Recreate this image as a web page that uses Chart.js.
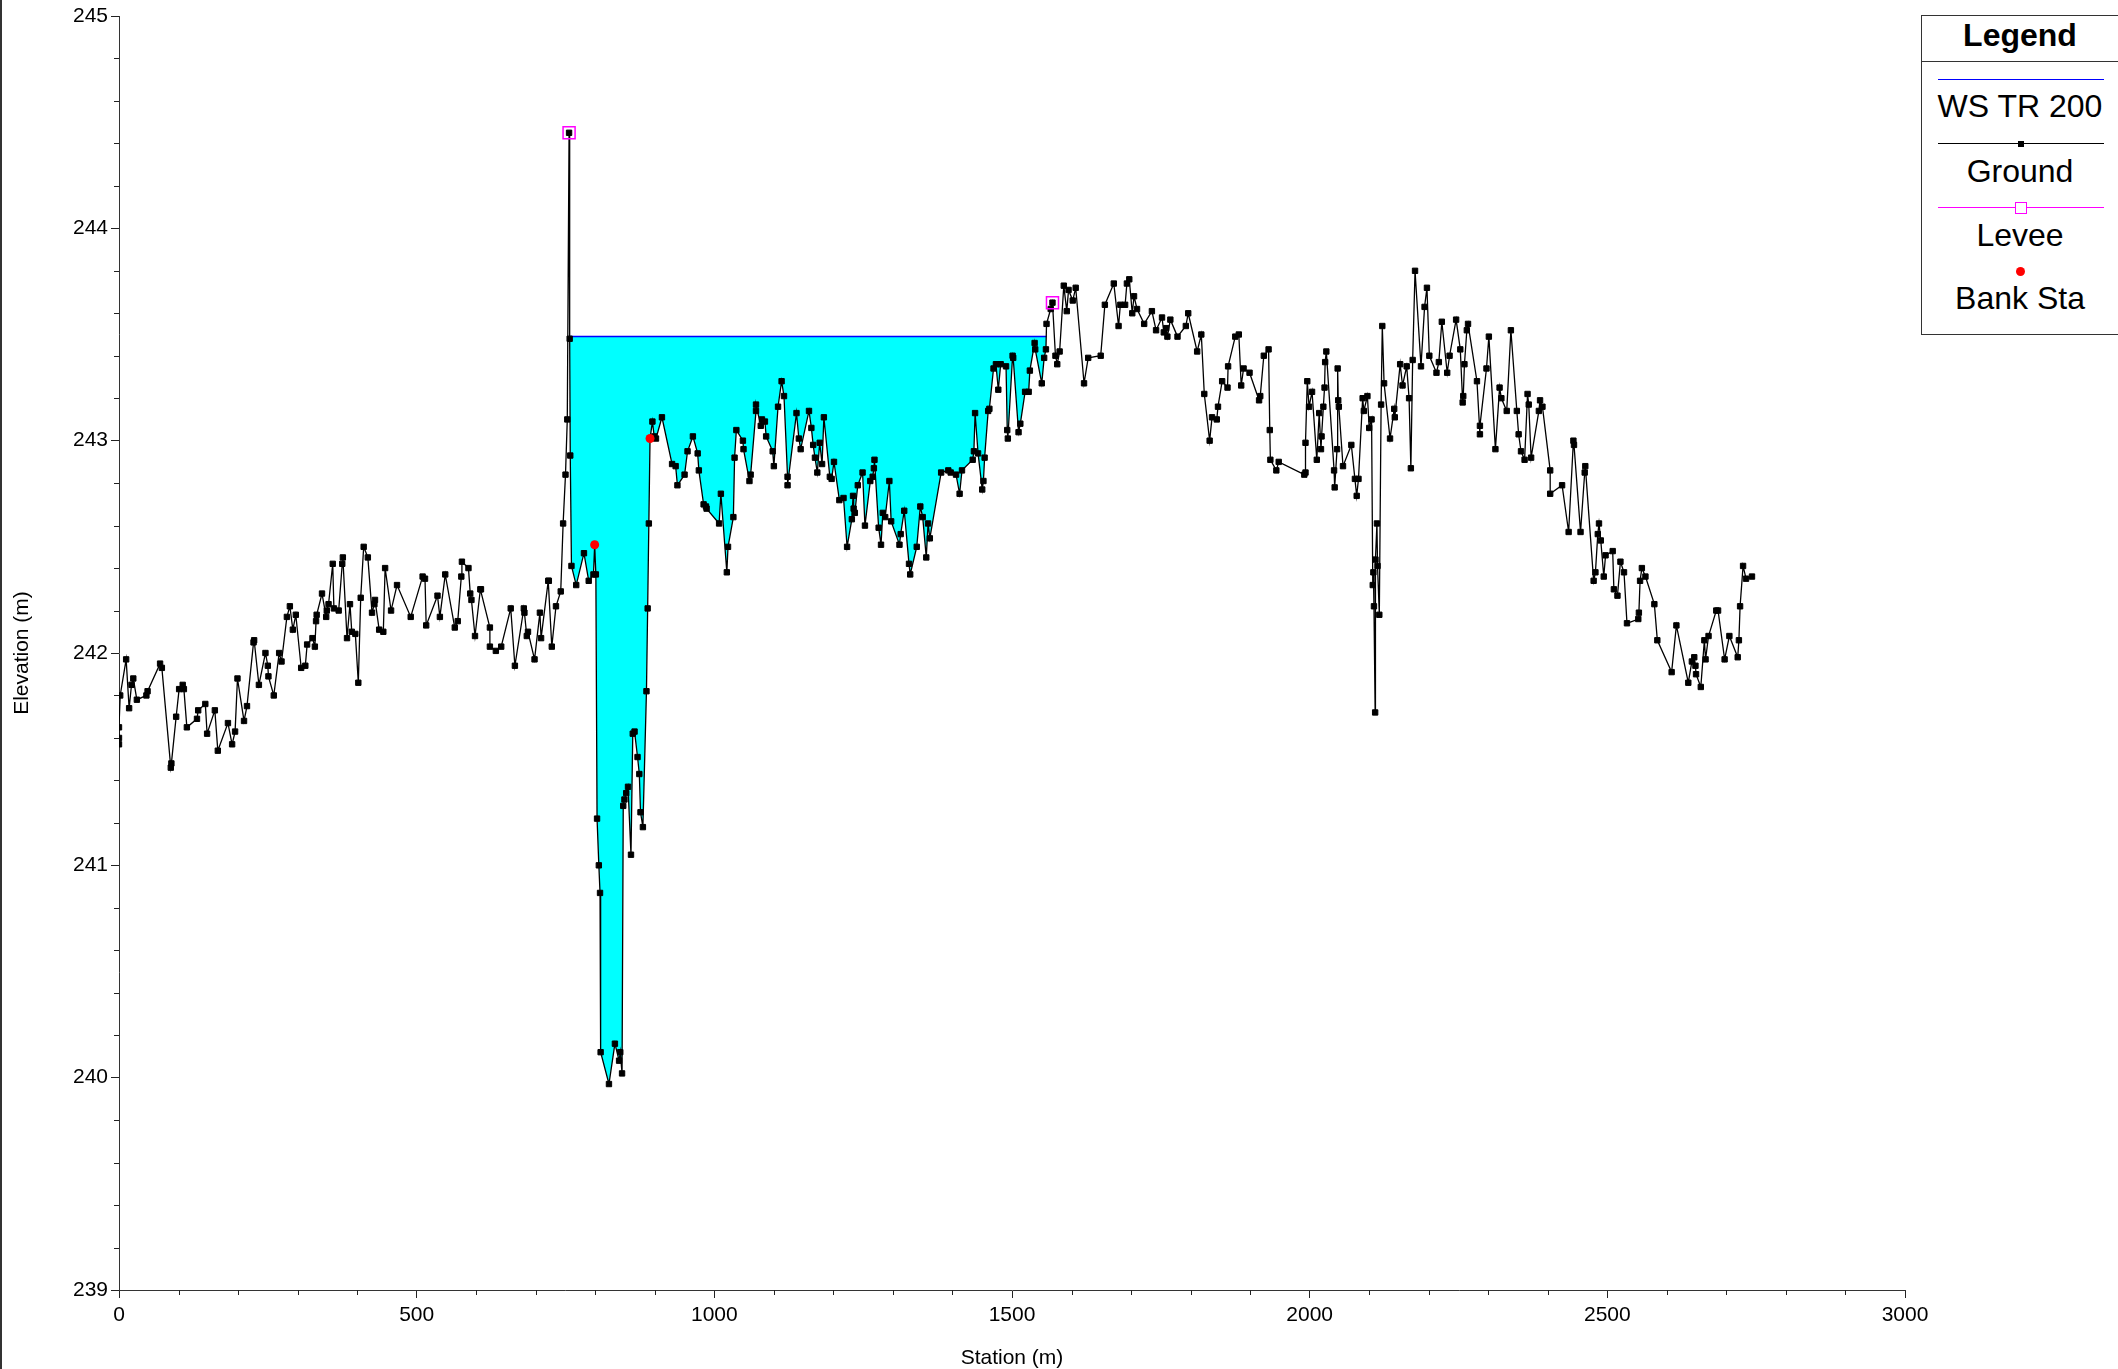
<!DOCTYPE html>
<html>
<head>
<meta charset="utf-8">
<script src="https://cdn.jsdelivr.net/npm/chart.js@4.4.1/dist/chart.umd.min.js"></script>
<style>
  html, body { margin: 0; padding: 0; background: #fff; }
  #wrap { position: relative; width: 2118px; height: 1369px; overflow: hidden; }
  #edge { position: absolute; left: 0; top: 0; width: 2px; height: 1369px; background: #333; }
  #legend {
    position: absolute; left: 1921px; top: 15px; width: 196px; height: 318px;
    border: 1px solid #333; background: #fff;
    font-family: "Liberation Sans", Arial, sans-serif; color: #000;
  }
  #legend .head { position: absolute; left: 0; top: 0; width: 100%; height: 45px; border-bottom: 1px solid #333;
    font-weight: bold; font-size: 32px; line-height: 38px; text-align: center; }
  #legend .txt { position: absolute; left: 0; width: 100%; text-align: center; font-size: 32px; line-height: 34px; }
  #legend .ln { position: absolute; left: 16px; width: 166px; height: 0; }
  #legend .mk { position: absolute; }
</style>
</head>
<body>
<div id="wrap">
  <canvas id="chart" width="2118" height="1369"></canvas>
  <div id="edge"></div>
  <div id="legend">
    <div class="head">Legend</div>
    <div class="ln" style="top:63px; border-top:1.5px solid #0000ff;"></div>
    <div class="txt" style="top:73px;">WS TR 200</div>
    <div class="ln" style="top:127px; border-top:1.5px solid #000;"></div>
    <div class="mk" style="left:96px; top:125px; width:6px; height:6px; background:#000;"></div>
    <div class="txt" style="top:138px;">Ground</div>
    <div class="ln" style="top:191px; border-top:1.5px solid #ff00ff;"></div>
    <div class="mk" style="left:93px; top:186px; width:10px; height:10px; border:1.5px solid #ff00ff; background:#fff;"></div>
    <div class="txt" style="top:202px;">Levee</div>
    <div class="mk" style="left:94px; top:251px; width:9px; height:9px; border-radius:50%; background:#ff0000;"></div>
    <div class="txt" style="top:265px;">Bank Sta</div>
  </div>
</div>
<script>
// profil en travers : station (m) et cote du terrain (m)
const groundStation = [
  0, 0, 0, 2, 12, 17, 21, 24, 30, 46,
  48, 69, 72, 87, 88, 96, 101, 107, 109, 114,
  131, 133, 145, 148, 161, 166, 183, 190, 195, 199,
  210, 215, 226, 227, 235, 246, 250, 251, 260, 269,
  273, 282, 287, 292, 297, 306, 313, 316, 325, 329,
  331, 332, 341, 348, 349, 352, 359, 361, 369, 375,
  376, 383, 388, 391, 397, 402, 406, 411, 418, 425,
  429, 430, 437, 444, 447, 457, 467, 490, 510, 514,
  516, 535, 539, 548, 564, 569, 575, 576, 587, 590,
  592, 598, 607, 608, 623, 623, 633, 642, 658, 665,
  680, 681, 685, 687, 698, 707, 709, 721, 722, 727,
  734, 742, 746, 750, 753, 756, 757, 758, 760, 768,
  781, 789, 797, 799, 801, 803, 806, 808, 809, 823,
  833, 840, 842, 845, 847, 849, 852, 855, 860, 863,
  866, 871, 874, 876, 880, 886, 888, 890, 892, 896,
  899, 902, 912, 929, 935, 938, 950, 955, 964, 972,
  974, 982, 986, 987, 1008, 1011, 1021, 1023, 1032, 1034,
  1037, 1048, 1049, 1059, 1061, 1070, 1070, 1078, 1080, 1085,
  1087, 1098, 1100, 1107, 1113, 1117, 1123, 1123, 1138, 1142,
  1145, 1159, 1163, 1166, 1169, 1173, 1177, 1181, 1184, 1194,
  1197, 1201, 1210, 1217, 1223, 1231, 1233, 1234, 1236, 1241,
  1249, 1253, 1262, 1266, 1268, 1269, 1276, 1280, 1283, 1287,
  1294, 1297, 1311, 1313, 1319, 1327, 1329, 1340, 1346, 1350,
  1356, 1359, 1362, 1381, 1393, 1397, 1406, 1412, 1416, 1434,
  1436, 1438, 1443, 1450, 1452, 1454, 1460, 1462, 1469, 1473,
  1477, 1481, 1490, 1492, 1493, 1501, 1502, 1511, 1514, 1522,
  1528, 1530, 1538, 1539, 1550, 1554, 1557, 1558, 1565, 1568,
  1573, 1576, 1580, 1587, 1592, 1595, 1602, 1607, 1621, 1628,
  1649, 1656, 1671, 1679, 1682, 1690, 1693, 1697, 1702, 1705,
  1710, 1722, 1735, 1742, 1752, 1755, 1759, 1761, 1766, 1778,
  1792, 1796, 1811, 1818, 1823, 1832, 1836, 1844, 1846, 1853,
  1862, 1863, 1875, 1881, 1885, 1889, 1899, 1915, 1917, 1923,
  1931, 1933, 1934, 1944, 1948, 1991, 1993, 1993, 1996, 1999,
  2004, 2012, 2016, 2019, 2020, 2023, 2025, 2026, 2028, 2041,
  2042, 2046, 2047, 2048, 2049, 2056, 2070, 2076, 2079, 2082,
  2089, 2091, 2097, 2100, 2104, 2106, 2107, 2108, 2110, 2110.5,
  2113, 2114, 2117, 2120, 2122, 2125, 2135, 2142, 2143, 2152,
  2156, 2163, 2167, 2170, 2173, 2177, 2187, 2193, 2197, 2201,
  2213, 2217, 2222, 2231, 2235, 2246, 2253, 2257, 2258, 2260,
  2264, 2266, 2281, 2286, 2286, 2297, 2301, 2312, 2319, 2322,
  2331, 2338, 2348, 2351, 2355, 2361, 2366, 2368, 2372, 2385,
  2387, 2391, 2404, 2404, 2424, 2435, 2443, 2444, 2455, 2462,
  2463, 2477, 2480, 2484, 2486, 2489, 2494, 2497, 2509, 2511,
  2517, 2522, 2528, 2533, 2552, 2553, 2555, 2558, 2564, 2579,
  2584, 2608, 2616, 2636, 2642, 2646, 2648, 2649, 2657, 2663,
  2665, 2670, 2683, 2686, 2697, 2705, 2719, 2721, 2723, 2728,
  2733, 2743
];
const groundElevation = [
  241.57, 241.60, 241.65, 241.80, 241.97, 241.74, 241.85, 241.88, 241.78, 241.80,
  241.82, 241.95, 241.93, 241.46, 241.48, 241.70, 241.83, 241.85, 241.83, 241.65,
  241.69, 241.73, 241.76, 241.62, 241.73, 241.54, 241.67, 241.57, 241.63, 241.88,
  241.68, 241.75, 242.05, 242.06, 241.85, 242.00, 241.94, 241.89, 241.80, 242.00,
  241.96, 242.17, 242.22, 242.11, 242.18, 241.93, 241.94, 242.04, 242.07, 242.03,
  242.15, 242.18, 242.28, 242.17, 242.20, 242.23, 242.42, 242.21, 242.20, 242.42,
  242.45, 242.07, 242.23, 242.10, 242.09, 241.86, 242.26, 242.50, 242.45, 242.19,
  242.23, 242.25, 242.11, 242.10, 242.40, 242.20, 242.32, 242.17, 242.36, 242.35,
  242.13, 242.27, 242.17, 242.37, 242.12, 242.15, 242.36, 242.43, 242.40, 242.28,
  242.25, 242.08, 242.30, 242.30, 242.12, 242.03, 242.01, 242.03, 242.21, 241.94,
  242.21, 242.19, 242.08, 242.10, 241.97, 242.19, 242.07, 242.34, 242.34, 242.03,
  242.22, 242.29, 242.61, 242.84, 243.10, 244.45, 243.48, 242.93, 242.41, 242.32,
  242.47, 242.34, 242.37, 242.51, 242.37, 241.22, 241.00, 240.87, 240.12, 239.97,
  240.16, 240.08, 240.12, 240.02, 241.28, 241.31, 241.34, 241.37, 241.05, 241.62,
  241.63, 241.51, 241.43, 241.25, 241.18, 241.82, 242.21, 242.61, 243.01, 243.09,
  243.02, 243.01, 243.11, 242.89, 242.88, 242.79, 242.84, 242.95, 243.02, 242.94,
  242.86, 242.70, 242.69, 242.68, 242.61, 242.75, 242.38, 242.50, 242.64, 242.92,
  243.05, 243.00, 242.96, 242.81, 242.84, 243.14, 243.17, 243.07, 243.10, 243.09,
  243.02, 242.95, 242.88, 243.16, 243.28, 243.21, 242.83, 242.79, 243.13, 243.01,
  242.96, 243.14, 243.06, 242.98, 242.92, 242.85, 242.99, 242.89, 243.11, 242.83,
  242.82, 242.90, 242.72, 242.73, 242.50, 242.63, 242.74, 242.68, 242.66, 242.79,
  242.85, 242.60, 242.81, 242.83, 242.87, 242.91, 242.59, 242.51, 242.66, 242.64,
  242.81, 242.62, 242.51, 242.56, 242.67, 242.42, 242.37, 242.50, 242.69, 242.64,
  242.45, 242.61, 242.54, 242.85, 242.86, 242.85, 242.84, 242.75, 242.86, 242.91,
  242.95, 243.13, 242.94, 242.77, 242.81, 242.92, 243.14, 243.15, 243.34, 243.36,
  243.24, 243.36, 243.35, 243.05, 243.01, 243.40, 243.39, 243.04, 243.08, 243.23,
  243.23, 243.33, 243.46, 243.43, 243.27, 243.39, 243.43, 243.55, 243.62, 243.65,
  243.40, 243.36, 243.42, 243.73, 243.61, 243.71, 243.66, 243.72, 243.27, 243.39,
  243.40, 243.64, 243.74, 243.54, 243.64, 243.64, 243.74, 243.76, 243.60, 243.68,
  243.62, 243.55, 243.61, 243.52, 243.58, 243.51, 243.53, 243.49, 243.57, 243.49,
  243.54, 243.60, 243.42, 243.50, 243.22, 243.00, 243.11, 243.10, 243.16, 243.28,
  243.25, 243.35, 243.49, 243.50, 243.26, 243.34, 243.32, 243.19, 243.21, 243.40,
  243.43, 243.05, 242.91, 242.86, 242.90, 242.84, 242.85, 242.99, 243.28, 243.16,
  243.23, 242.91, 243.13, 242.96, 243.02, 243.16, 243.25, 243.37, 243.42, 242.86,
  242.78, 242.96, 243.34, 243.19, 243.16, 242.88, 242.98, 242.82, 242.74, 242.82,
  243.20, 243.14, 243.21, 243.06, 243.10, 242.32, 242.38, 242.22, 241.72, 242.44,
  242.61, 242.41, 242.18, 243.17, 243.54, 243.27, 243.01, 243.15, 243.11, 243.36,
  243.26, 243.35, 243.20, 242.87, 243.38, 243.80, 243.35, 243.63, 243.72, 243.40,
  243.32, 243.37, 243.56, 243.32, 243.40, 243.57, 243.43, 243.18, 243.21, 243.36,
  243.52, 243.55, 243.28, 243.03, 243.07, 243.34, 243.49, 242.96, 243.25, 243.20,
  243.14, 243.52, 243.14, 243.03, 242.95, 242.91, 243.22, 243.17, 242.92, 243.14,
  243.19, 243.16, 242.86, 242.75, 242.79, 242.57, 243.00, 242.98, 242.57, 242.85,
  242.88, 242.34, 242.38, 242.56, 242.61, 242.53, 242.36, 242.46, 242.48, 242.30,
  242.27, 242.43, 242.38, 242.14, 242.16, 242.19, 242.34, 242.40, 242.36, 242.23,
  242.06, 241.91, 242.13, 241.86, 241.96, 241.98, 241.94, 241.90, 241.84, 242.06,
  241.97, 242.08, 242.20, 242.20, 241.97, 242.08, 241.98, 242.06, 242.22, 242.41,
  242.35, 242.36
];

// ligne d'eau WS TR 200
const wsStation = [757, 1558];
const wsElevation = [243.49, 243.49];

// digues et berges
const leveeStation = [756, 1568];
const leveeElevation = [244.45, 243.65];
const bankStation = [799, 892];
const bankElevation = [242.51, 243.01];

// axes
const xMin = 0, xMax = 3000, xStep = 500, xMinor = 100;
const yMin = 239, yMax = 245, yStep = 1, yMinor = 0.2;

const toPoints = (xs, ys) => xs.map((x, i) => ({ x: x, y: ys[i] }));
const fontFamily = '"Liberation Sans", Arial, sans-serif';

// petites graduations (Chart.js n'a pas de minor ticks)
const minorTicks = {
  id: 'minorTicks',
  afterDraw(chart) {
    const { ctx, scales: { x, y } } = chart;
    ctx.save();
    ctx.strokeStyle = '#222';
    ctx.lineWidth = 1;
    ctx.beginPath();
    for (let v = xMin; v <= xMax; v += xMinor) {
      if (v % xStep === 0) continue;
      const px = Math.round(x.getPixelForValue(v)) + 0.5;
      ctx.moveTo(px, x.top);
      ctx.lineTo(px, x.top + 5);
    }
    const n = Math.round((yMax - yMin) / yMinor);
    for (let i = 0; i <= n; i++) {
      if (i % 5 === 0) continue;
      const py = Math.round(y.getPixelForValue(yMin + i * yMinor)) + 0.5;
      ctx.moveTo(y.right - 5, py);
      ctx.lineTo(y.right, py);
    }
    ctx.stroke();
    ctx.restore();
  }
};

const ctx = document.getElementById('chart').getContext('2d');
new Chart(ctx, {
  type: 'line',
  data: {
    datasets: [{
      label: 'Ground',
      data: toPoints(groundStation, groundElevation),
      borderColor: '#000',
      borderWidth: 1.3,
      pointStyle: 'rect',
      pointRadius: 3.8,
      pointBackgroundColor: '#000',
      pointBorderColor: '#000',
      pointBorderWidth: 1,
      tension: 0,
      fill: false,
      order: 1
    }, {
      label: 'WS TR 200',
      data: toPoints(wsStation, wsElevation),
      borderColor: '#0000ff',
      borderWidth: 1.5,
      backgroundColor: '#00ffff',
      pointRadius: 0,
      fill: { target: 0, above: '#00ffff', below: 'rgba(0,0,0,0)' },
      order: 2
    }, {
      label: 'Levee',
      data: toPoints(leveeStation, leveeElevation),
      showLine: false,
      pointStyle: 'rect',
      pointRadius: 8.5,
      pointBackgroundColor: 'rgba(0,0,0,0)',
      pointBorderColor: '#ff00ff',
      pointBorderWidth: 1.5,
      fill: false,
      order: 0
    }, {
      label: 'Bank Sta',
      data: toPoints(bankStation, bankElevation),
      showLine: false,
      pointStyle: 'circle',
      pointRadius: 4.5,
      pointBackgroundColor: '#ff0000',
      pointBorderColor: '#ff0000',
      pointBorderWidth: 0,
      fill: false,
      order: 0
    }]
  },
  options: {
    responsive: false,
    animation: false,
    devicePixelRatio: 1,
    layout: { padding: { top: 16, right: 213, bottom: 0, left: 0 } },
    plugins: { legend: { display: false }, tooltip: { enabled: false } },
    scales: {
      x: {
        type: 'linear',
        min: xMin, max: xMax,
        ticks: { stepSize: xStep, padding: 5, color: '#000', autoSkip: false, maxRotation: 0,
                 font: { size: 21, family: fontFamily },
                 callback: (v) => String(v) },
        grid: { display: true, drawOnChartArea: false, drawTicks: true, tickLength: 8, color: '#222' },
        border: { display: true, color: '#333', width: 1 },
        title: { display: true, text: 'Station (m)', color: '#000',
                 font: { size: 21, family: fontFamily, lineHeight: 1 }, padding: { top: 0, bottom: 0 } },
        afterFit(scale) { scale.height = 79; }
      },
      y: {
        type: 'linear',
        min: yMin, max: yMax,
        ticks: { stepSize: yStep, padding: 3, color: '#000', font: { size: 21, family: fontFamily },
                 callback: (v) => String(v) },
        grid: { display: true, drawOnChartArea: false, drawTicks: true, tickLength: 8, color: '#222' },
        border: { display: true, color: '#333', width: 1 },
        title: { display: true, text: 'Elevation (m)', color: '#000',
                 font: { size: 21, family: fontFamily }, padding: { top: 10, bottom: 0 } },
        afterFit(scale) { scale.width = 119; }
      }
    }
  },
  plugins: [minorTicks]
});
</script>
</body>
</html>
